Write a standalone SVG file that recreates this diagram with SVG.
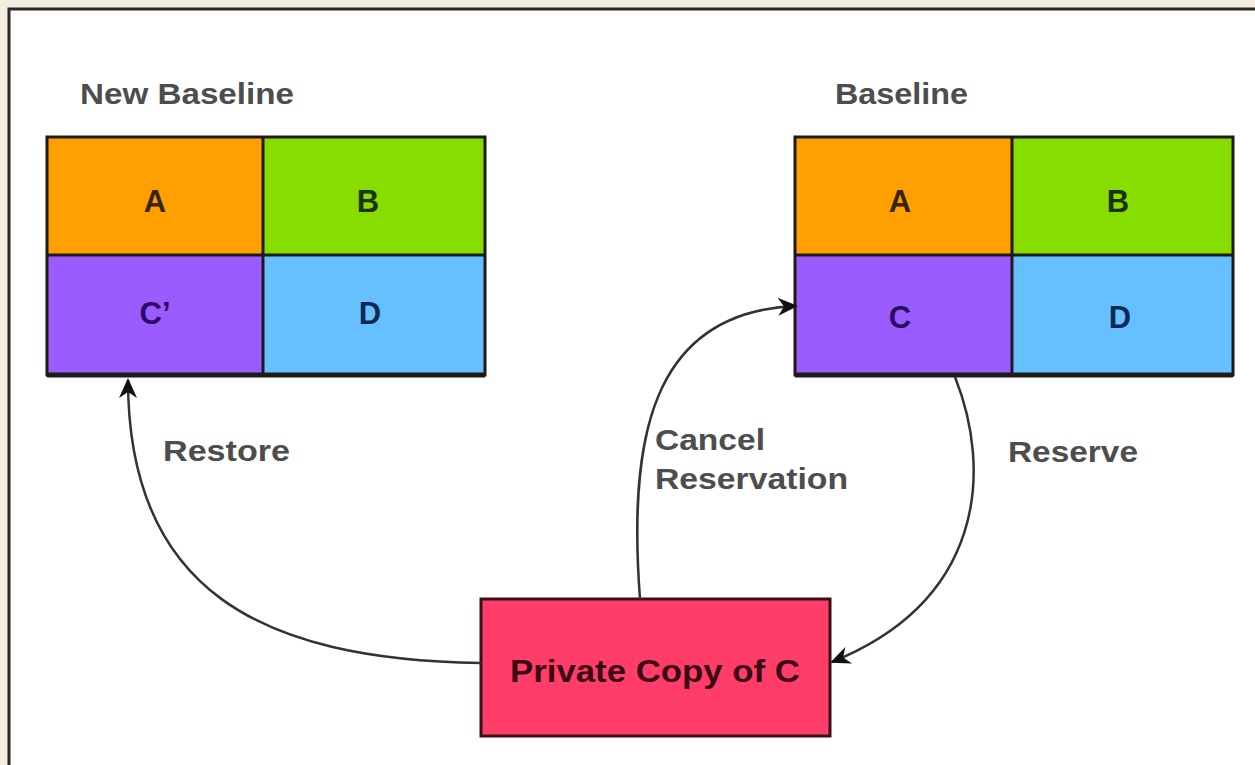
<svg xmlns="http://www.w3.org/2000/svg" width="1255" height="765" viewBox="0 0 1255 765">
<defs>
<style>
.lbl{font-family:"Liberation Sans",Arial,sans-serif;font-weight:bold;fill:#4d4d4d;font-size:30px}
.cell{font-family:"Liberation Sans",Arial,sans-serif;font-weight:bold;font-size:31px;text-anchor:middle}
.grid{stroke:#1e1a18;stroke-width:3}
.conn{fill:none;stroke:#333;stroke-width:2.5}
</style>
<marker id="arr" viewBox="0 0 20 20" refX="18" refY="10" markerWidth="22" markerHeight="20" markerUnits="userSpaceOnUse" orient="auto">
<path d="M0,1 L20,10 L0,19 L6,10 Z" fill="#111"/>
</marker>
</defs>
<rect x="0" y="0" width="1255" height="765" fill="#f2efe2"/>
<rect x="9" y="9" width="1260" height="770" fill="#ffffff" stroke="#2b2a22" stroke-width="3"/>

<g id="new-baseline">
<text class="lbl" x="80" y="104" textLength="214" lengthAdjust="spacingAndGlyphs">New Baseline</text>
<rect x="47" y="137" width="216" height="118" fill="#ff9f00"/>
<rect x="263" y="137" width="222" height="118" fill="#88dd00"/>
<rect x="47" y="255" width="216" height="120" fill="#9b5cff"/>
<rect x="263" y="255" width="222" height="120" fill="#66bfff"/>
<rect class="grid" x="47" y="137" width="438" height="238" fill="none"/>
<line class="grid" x1="47" y1="255" x2="485" y2="255"/>
<line class="grid" x1="263" y1="137" x2="263" y2="375"/>
<line x1="47" y1="375" x2="485" y2="375" stroke="#1e1a18" stroke-width="5"/>
<text class="cell" x="155" y="212" fill="#3a2300">A</text>
<text class="cell" x="368" y="212" fill="#1a3300">B</text>
<text class="cell" x="155" y="324" fill="#2a0a66">C’</text>
<text class="cell" x="370" y="324" fill="#0a2a55">D</text>
</g>

<g id="baseline">
<text class="lbl" x="835" y="104" textLength="133" lengthAdjust="spacingAndGlyphs">Baseline</text>
<rect x="795" y="137" width="217" height="118" fill="#ff9f00"/>
<rect x="1012" y="137" width="221" height="118" fill="#88dd00"/>
<rect x="795" y="255" width="217" height="120" fill="#9b5cff"/>
<rect x="1012" y="255" width="221" height="120" fill="#66bfff"/>
<rect class="grid" x="795" y="137" width="438" height="238" fill="none"/>
<line class="grid" x1="795" y1="255" x2="1233" y2="255"/>
<line class="grid" x1="1012" y1="137" x2="1012" y2="375"/>
<line x1="795" y1="375" x2="1233" y2="375" stroke="#1e1a18" stroke-width="5"/>
<text class="cell" x="900" y="212" fill="#3a2300">A</text>
<text class="cell" x="1118" y="212" fill="#1a3300">B</text>
<text class="cell" x="900" y="328" fill="#2a0a66">C</text>
<text class="cell" x="1120" y="328" fill="#0a2a55">D</text>
</g>

<g id="private-copy">
<rect x="481" y="599" width="349" height="137" fill="#ff3d68" stroke="#3a1018" stroke-width="3"/>
<text x="510" y="682" font-family="'Liberation Sans',Arial,sans-serif" font-weight="bold" font-size="32" fill="#3a0a14" textLength="290" lengthAdjust="spacingAndGlyphs">Private Copy of C</text>
</g>

<g id="connectors">
<path class="conn" d="M481,663 C260,660 128,590 128,380" marker-end="url(#arr)"/>
<path class="conn" d="M640,599 C628,440 650,312 796,306" marker-end="url(#arr)"/>
<path class="conn" d="M955,377 C992,470 985,600 832,662" marker-end="url(#arr)"/>
<text class="lbl" x="163" y="461" textLength="127" lengthAdjust="spacingAndGlyphs">Restore</text>
<text class="lbl" x="655" y="450" textLength="110" lengthAdjust="spacingAndGlyphs">Cancel</text>
<text class="lbl" x="655" y="489" textLength="193" lengthAdjust="spacingAndGlyphs">Reservation</text>
<text class="lbl" x="1008" y="462" textLength="130" lengthAdjust="spacingAndGlyphs">Reserve</text>
</g>
</svg>
